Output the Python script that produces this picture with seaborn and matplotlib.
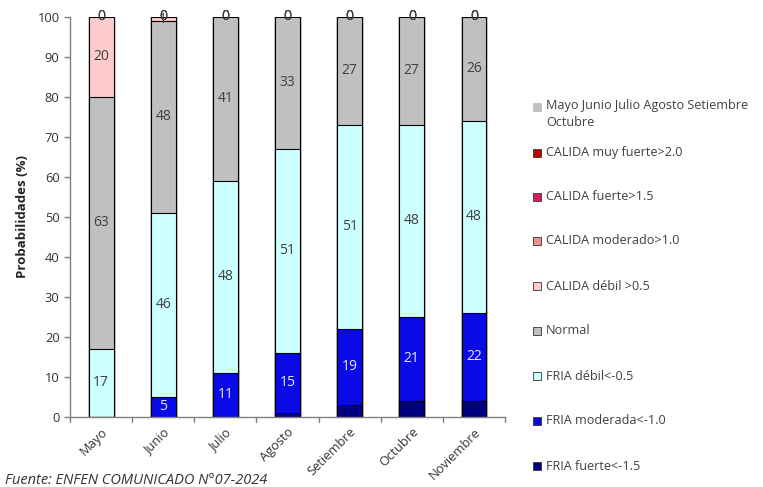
import numpy as np
import pandas as pd
import matplotlib
matplotlib.use("Agg")
import matplotlib.pyplot as plt
from matplotlib.patches import Rectangle
import seaborn as sns

# Monthly probabilities (%) per condition, bottom to top of each stack
meses = ["Mayo", "Junio", "Julio", "Agosto", "Setiembre", "Octubre", "Noviembre"]
fria_fuerte = [0, 0, 0, 1, 3, 4, 4]
fria_moderada = [0, 5, 11, 15, 19, 21, 22]
fria_debil = [17, 46, 48, 51, 51, 48, 48]
normal = [63, 48, 41, 33, 27, 27, 26]
calida_debil = [20, 1, 0, 0, 0, 0, 0]
calida_moderado = [0, 0, 0, 0, 0, 0, 0]
calida_fuerte = [0, 0, 0, 0, 0, 0, 0]
calida_muy_fuerte = [0, 0, 0, 0, 0, 0, 0]

capas = ["FRIA fuerte<-1.5", "FRIA moderada<-1.0", "FRIA débil<-0.5", "Normal",
         "CALIDA débil >0.5", "CALIDA moderado>1.0", "CALIDA fuerte>1.5",
         "CALIDA muy fuerte>2.0"]
valores = [fria_fuerte, fria_moderada, fria_debil, normal,
           calida_debil, calida_moderado, calida_fuerte, calida_muy_fuerte]
colores = ["#000080", "#0A0AE6", "#CCFFFF", "#C0C0C0",
           "#FFCCCC", "#EE9090", "#D81B5C", "#C00000"]
texto_color = ["#000080", "#E8E8FF", "#404040", "#404040",
               "#404040", "#404040", "#404040", "#404040"]
serie_extra = "Mayo Junio Julio Agosto Setiembre\nOctubre"

sns.set_style("white")
plt.rcParams["font.family"] = ["Open Sans", "DejaVu Sans"]

fig = plt.figure(figsize=(7.63, 4.87), dpi=100)
ax = fig.add_axes([70 / 763, 1 - 417 / 487, 435 / 763, 400 / 487])

df = pd.DataFrame({c: v for c, v in zip(capas, valores)}, index=meses)
acum = df.cumsum(axis=1)

# Stack by overdrawing cumulative totals from the top layer down
for capa, color in reversed(list(zip(capas, colores))):
    sns.barplot(x=meses, y=acum[capa].values, color=color, width=0.4,
                edgecolor="black", linewidth=0.8, saturation=1, ax=ax,
                order=meses)

# Segment value labels
for j, capa in enumerate(capas):
    base = acum[capa].values - df[capa].values
    for i, v in enumerate(df[capa].values):
        if j == 0:
            continue
        if v == 0 and j < 4:
            continue
        y = base[i] + v / 2
        if capa == "CALIDA débil >0.5" and v == 1:
            y = 99.3
        ax.text(i, y, f"{v}", ha="center", va="center", fontsize=10,
                color=texto_color[j])

ax.set_xlim(-0.5, 6.5)
ax.set_ylim(0, 100)
ax.set_yticks(np.arange(0, 101, 10))
ax.set_ylabel("Probabilidades (%)", fontsize=9.5, fontweight="bold",
              color="#222222", labelpad=6)
ax.set_xlabel("")
ax.set_xticks(range(len(meses)))
ax.set_xticklabels(meses, rotation=45, ha="right", rotation_mode="anchor",
                   fontsize=9.3, color="#333333")
ax.tick_params(axis="x", length=0, pad=6)
ax.tick_params(axis="y", length=4, width=1, color="#808080", direction="out",
               labelsize=9.3, labelcolor="#333333", left=True)
for b in np.arange(-0.5, 7.0, 1.0):
    ax.plot([b, b], [0, -1.2], color="#808080", lw=1, clip_on=False)
for s in ["top", "right"]:
    ax.spines[s].set_visible(False)
for s in ["left", "bottom"]:
    ax.spines[s].set_color("#808080")
    ax.spines[s].set_linewidth(1)

# Legend drawn as a column at the right
entradas = [(serie_extra, "#BFBFBF", False)] + [
    (c, col, True) for c, col in zip(reversed(capas), reversed(colores))]
ys = [107, 153, 197, 241, 286, 331, 376, 421, 466]
for (lab, col, borde), yp in zip(entradas, ys):
    fy = 1 - yp / 487
    fig.patches.append(Rectangle((533 / 763, fy - 4 / 487), 8 / 763, 8 / 487,
                                 transform=fig.transFigure, facecolor=col,
                                 edgecolor="#333333" if borde else col,
                                 linewidth=0.6))
    fig.text(546 / 763, fy + (8 / 487 if "\n" in lab else 0), lab,
             ha="left", va="top" if "\n" in lab else "center",
             fontsize=9.1, color="#404040", linespacing=1.4)

fig.text(5 / 763, 1 - 481 / 487, "Fuente: ENFEN COMUNICADO N°07-2024",
         ha="left", va="center", fontsize=10.5, style="italic", color="#333333")

fig.savefig("out.png", dpi=100, facecolor="white")
